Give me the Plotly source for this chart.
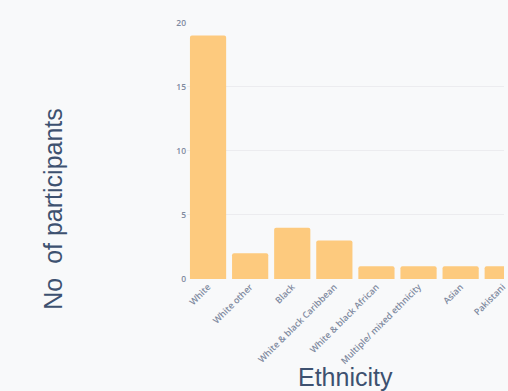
import plotly.graph_objects as go

categories = ["White", "White other", "Black", "White & black Caribbean",
              "White & black African", "Multiple/ mixed ethnicity", "Asian", "Pakistani"]
participants = [19, 2, 4, 3, 1, 1, 1, 1]
y_ticks = [0, 5, 10, 15, 20]

W, H = 508, 391
ML, MR, MT, MB = 187, 0, 22, 112
PW, PH = W - ML - MR, H - MT - MB

def px_x(x):
    return (x - ML) / PW

def px_y(y):
    return (H - MB - y) / PH

fig = go.Figure(go.Bar(
    x=categories, y=participants,
    marker=dict(color="#fdca7e", cornerradius=2, line=dict(width=0)),
))

fig.update_layout(
    width=W, height=H,
    margin=dict(l=ML, r=MR, t=MT, b=MB),
    paper_bgcolor="#f8f9fa", plot_bgcolor="#f8f9fa",
    bargap=0.14, showlegend=False,
    font=dict(family="Open Sans", color="#8a94a6"),
    xaxis=dict(range=[-0.5, 7.03], tickangle=-45,
               tickfont=dict(family="Open Sans", size=9, color="#7f8aa0", weight=600),
               showgrid=False, zeroline=False, showline=False, ticks=""),
    yaxis=dict(range=[0, 20.05], tickvals=y_ticks,
               tickfont=dict(family="Open Sans", size=8.5, color="#7f8aa0", weight=600),
               gridcolor="#ececef", gridwidth=1, zeroline=False, showline=False, ticks="",
               ticklen=0, ticksuffix="   "),
    annotations=[
        dict(text="No  of participants", textangle=-90, xref="paper", yref="paper",
             x=px_x(51), y=px_y(209), showarrow=False, xanchor="center", yanchor="middle",
             font=dict(family="Liberation Sans", size=25, color="#3d5170")),
        dict(text="Ethnicity", xref="paper", yref="paper",
             x=px_x(348), y=px_y(377), showarrow=False, xanchor="center", yanchor="middle",
             font=dict(family="Liberation Sans", size=25, color="#3d5170")),
    ],
)

fig.write_html("out.html", config={"displayModeBar": False},
               post_script="document.body.style.margin='0';document.body.style.overflow='hidden';")
